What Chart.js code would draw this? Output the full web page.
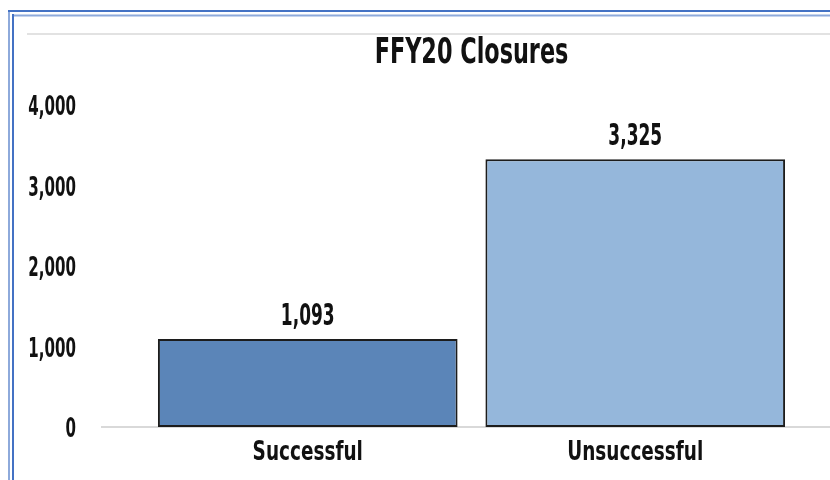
<!DOCTYPE html>
<html>
<head>
<meta charset="utf-8">
<script src="https://cdn.jsdelivr.net/npm/chart.js@4"></script>
<style>
    html, body { margin: 0; padding: 0; background: #fff; }
    #wrap { width: 830px; height: 480px; position: relative; }
</style>
</head>
<body>
<div id="wrap"><canvas id="closuresChart"></canvas></div>
<script>
const chartTitle = 'FFY20 Closures';
const categories = ['Successful', 'Unsuccessful'];
const closures = [1093, 3325];
const barColors = ['#5b85b8', '#95b7db'];
const yTicks = [0, 1000, 2000, 3000, 4000];

// no DIN-like condensed face installed, so text gets squeezed horizontally
const FONT = '"DejaVu Sans Condensed", "DejaVu Sans", sans-serif';

function squeezed(ctx, text, x, y, size, sx, align) {
    ctx.save();
    ctx.font = 'bold ' + size + 'px ' + FONT;
    ctx.fillStyle = '#111';
    ctx.textAlign = align;
    ctx.textBaseline = 'alphabetic';
    ctx.translate(x, y);
    ctx.scale(sx, 1);
    ctx.fillText(text, 0, 0);
    ctx.restore();
}

const decorations = {
    id: 'decorations',
    beforeDraw(chart) {
        const ctx = chart.ctx;
        const w = chart.width, h = chart.height;
        ctx.save();
        // double frame round the chart
        ctx.lineWidth = 2;
        ctx.strokeStyle = '#8eaadb';
        ctx.beginPath();
        ctx.moveTo(9, 11); ctx.lineTo(9, h);
        ctx.moveTo(13, 15.5); ctx.lineTo(w, 15.5);
        ctx.stroke();
        ctx.strokeStyle = '#4472c4';
        ctx.beginPath();
        ctx.moveTo(8, 11); ctx.lineTo(w, 11);
        ctx.moveTo(13, 14); ctx.lineTo(13, h);
        ctx.stroke();
        // thin rule under the frame
        ctx.lineWidth = 1.5;
        ctx.strokeStyle = '#d9d9d9';
        ctx.beginPath();
        ctx.moveTo(27, 34); ctx.lineTo(w, 34);
        ctx.stroke();
        // baseline
        ctx.lineWidth = 2;
        const y0 = chart.scales.y.getPixelForValue(0);
        ctx.beginPath();
        ctx.moveTo(101, y0); ctx.lineTo(w, y0);
        ctx.stroke();
        ctx.restore();
    },
    afterDraw(chart) {
        const ctx = chart.ctx;
        const area = chart.chartArea;
        const xs = chart.scales.x, ys = chart.scales.y;

        squeezed(ctx, chartTitle, (area.left + area.right) / 2, 63, 36, 0.69, 'center');

        yTicks.forEach(v => {
            squeezed(ctx, v.toLocaleString('en-US'), 76, ys.getPixelForValue(v) + 10, 27, 0.62, 'right');
        });

        categories.forEach((c, i) => {
            squeezed(ctx, c, xs.getPixelForValue(i), area.bottom + 33, 27, 0.76, 'center');
        });

        chart.getDatasetMeta(0).data.forEach((bar, i) => {
            squeezed(ctx, closures[i].toLocaleString('en-US'), bar.x, bar.y - 14, 30, 0.63, 'center');
        });
    }
};

new Chart(document.getElementById('closuresChart'), {
    type: 'bar',
    data: {
        labels: categories,
        datasets: [{
            data: closures,
            backgroundColor: barColors,
            borderColor: '#1c1c1c',
            borderWidth: 2,
            borderSkipped: false,
            barPercentage: 0.915,
            categoryPercentage: 1
        }]
    },
    options: {
        responsive: true,
        maintainAspectRatio: false,
        animation: false,
        layout: { padding: { left: 144, right: 31, top: 105, bottom: 53 } },
        plugins: {
            legend: { display: false },
            tooltip: { enabled: false },
            title: { display: false }
        },
        scales: {
            x: { display: false },
            y: {
                display: false,
                min: 0,
                max: 4000,
                ticks: { stepSize: 1000 }
            }
        }
    },
    plugins: [decorations]
});
</script>
</body>
</html>
